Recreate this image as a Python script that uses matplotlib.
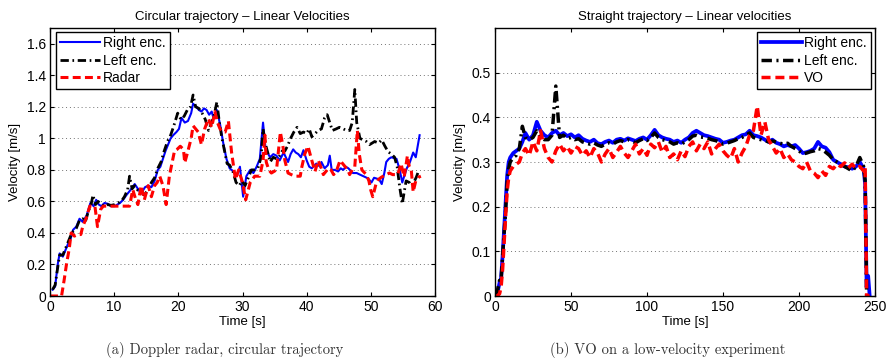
import matplotlib
matplotlib.use("Agg")
import matplotlib.pyplot as plt

# ---- (a) circular trajectory, doppler radar ----
circ_right_t = [0.4, 0.8, 1.2, 1.5, 2.0, 2.5, 2.8, 3.2, 3.6, 4.1, 4.6, 5.1, 5.7, 6.3, 6.8, 7.2, 7.6, 8.0, 8.5, 9.0,
                9.5, 10.1, 10.5, 10.9, 11.4, 11.9, 12.5, 13.2, 13.7, 14.2, 14.8, 15.3, 15.8, 16.3, 16.8, 17.2, 17.6,
                18.0, 18.4, 18.8, 19.2, 19.7, 20.1, 20.5, 21.0, 21.5, 22.0, 22.3, 22.8, 23.2, 23.6, 24.0, 24.4, 24.8,
                25.2, 25.5, 26.0, 26.5, 27.0, 27.5, 28.0, 28.6, 29.1, 29.6, 30.1, 30.6, 31.2, 31.7, 32.2, 32.7, 33.2,
                33.6, 34.3, 34.8, 35.3, 35.8, 36.4, 37.1, 37.5, 37.9, 38.3, 38.7, 39.1, 39.5, 40.0, 40.4, 40.8, 41.5,
                42.1, 42.3, 42.8, 43.3, 43.6, 43.9, 44.4, 44.9, 45.3, 45.7, 46.1, 46.5, 47.2, 47.8, 48.3, 49.1, 49.6,
                50.1, 50.5, 50.9, 51.3, 51.7, 52.1, 52.4, 52.8, 53.2, 53.6, 54.0, 54.5, 54.9, 55.2, 55.6, 56.1, 56.6,
                57.0, 57.3, 57.6]
circ_right_v = [0.04, 0.06, 0.20, 0.27, 0.25, 0.30, 0.33, 0.36, 0.42, 0.44, 0.49, 0.47, 0.51, 0.59, 0.57, 0.61, 0.58,
                0.57, 0.59, 0.585, 0.57, 0.57, 0.58, 0.59, 0.61, 0.64, 0.67, 0.71, 0.68, 0.65, 0.69, 0.70, 0.69, 0.73,
                0.80, 0.82, 0.87, 0.92, 0.96, 1.00, 1.02, 1.04, 1.06, 1.13, 1.10, 1.11, 1.16, 1.22, 1.20, 1.18, 1.17,
                1.19, 1.18, 1.15, 1.17, 1.125, 1.18, 1.09, 0.97, 0.87, 0.81, 0.79, 0.76, 0.82, 0.63, 0.76, 0.80, 0.78,
                0.82, 0.87, 1.10, 0.93, 0.88, 0.90, 0.89, 0.86, 0.91, 0.85, 0.90, 0.93, 0.91, 0.90, 0.88, 0.925, 0.86,
                0.82, 0.81, 0.84, 0.82, 0.85, 0.81, 0.83, 0.89, 0.80, 0.80, 0.79, 0.81, 0.80, 0.82, 0.81, 0.78, 0.78,
                0.77, 0.755, 0.745, 0.72, 0.75, 0.745, 0.74, 0.71, 0.78, 0.85, 0.87, 0.88, 0.875, 0.87, 0.80, 0.72,
                0.76, 0.81, 0.85, 0.91, 0.88, 0.95, 1.02]

circ_left_t = [0.4, 0.8, 1.2, 1.5, 2.0, 2.5, 2.8, 3.2, 3.6, 4.1, 4.6, 5.1, 5.5, 6.0, 6.4, 6.7, 7.1, 7.5, 8.0, 8.5,
               9.0, 9.5, 10.1, 10.6, 11.1, 11.6, 12.1, 12.4, 12.8, 13.2, 13.7, 14.2, 14.7, 15.2, 15.8, 16.3, 16.8,
               17.3, 17.8, 18.3, 18.8, 19.3, 19.9, 20.4, 20.9, 21.4, 21.9, 22.3, 22.7, 23.2, 23.7, 24.2, 24.7, 25.2,
               25.6, 26.0, 26.4, 26.8, 27.2, 27.6, 28.0, 28.5, 29.0, 29.5, 29.9, 30.4, 30.8, 31.4, 31.9, 32.4, 32.9,
               33.2, 33.6, 34.0, 34.3, 34.8, 35.3, 35.8, 36.2, 36.6, 37.0, 37.5, 38.0, 38.5, 39.0, 39.5, 40.0, 40.4,
               40.8, 41.3, 41.8, 42.3, 42.8, 43.2, 43.6, 44.0, 44.6, 45.1, 45.7, 46.2, 46.7, 47.1, 47.5, 47.8, 48.3,
               48.8, 49.3, 49.8, 50.2, 50.6, 51.2, 51.7, 52.2, 52.7, 53.2, 53.7, 54.1, 54.5, 54.9, 55.2, 55.5, 56.0,
               56.3, 56.7, 57.1, 57.5]
circ_left_v = [0.04, 0.07, 0.18, 0.26, 0.26, 0.31, 0.34, 0.38, 0.41, 0.43, 0.48, 0.49, 0.47, 0.54, 0.58, 0.64, 0.58,
               0.60, 0.58, 0.57, 0.58, 0.575, 0.58, 0.59, 0.60, 0.63, 0.675, 0.76, 0.68, 0.70, 0.67, 0.66, 0.64, 0.67,
               0.72, 0.75, 0.81, 0.85, 0.92, 0.98, 1.02, 1.08, 1.16, 1.12, 1.14, 1.18, 1.20, 1.275, 1.20, 1.19, 1.16,
               1.12, 1.05, 1.10, 1.15, 1.23, 1.10, 1.00, 0.92, 0.84, 0.83, 0.79, 0.72, 0.70, 0.73, 0.70, 0.74, 0.80,
               0.80, 0.81, 0.88, 1.06, 0.96, 0.90, 0.85, 0.88, 0.87, 0.89, 0.92, 0.92, 0.95, 1.00, 1.04, 1.07, 1.03,
               1.04, 1.03, 1.06, 1.01, 1.03, 1.05, 1.06, 1.13, 1.15, 1.10, 1.05, 1.06, 1.07, 1.06, 1.05, 1.05, 1.10,
               1.31, 1.10, 1.00, 0.99, 0.98, 0.96, 0.97, 0.98, 0.97, 0.99, 0.95, 0.915, 0.90, 0.88, 0.82, 0.69, 0.585,
               0.66, 0.73, 0.72, 0.70, 0.72, 0.755, 0.80]

circ_radar_t = [0.0, 1.8, 2.2, 2.6, 3.0, 3.3, 3.8, 4.4, 4.8, 5.1, 5.7, 6.2, 6.6, 7.0, 7.4, 7.9, 8.3, 8.8, 9.5, 10.1,
                10.8, 11.4, 12.0, 12.4, 12.9, 13.3, 13.7, 14.2, 14.7, 15.3, 15.8, 16.3, 16.7, 17.1, 17.6, 18.1, 18.6,
                19.0, 19.4, 19.8, 20.3, 20.8, 21.0, 21.5, 22.0, 22.3, 22.7, 23.1, 23.6, 24.1, 24.7, 25.2, 25.7, 26.1,
                26.5, 26.9, 27.3, 27.8, 28.3, 28.9, 29.4, 30.0, 30.5, 31.2, 31.9, 32.3, 32.7, 33.2, 33.5, 33.7, 34.1,
                34.5, 34.9, 35.3, 35.9, 36.3, 36.6, 37.1, 37.6, 38.2, 39.0, 39.2, 39.7, 40.2, 40.8, 41.3, 41.8, 42.2,
                42.6, 43.0, 43.4, 43.8, 44.2, 44.7, 45.2, 45.6, 46.0, 46.4, 46.7, 47.1, 47.5, 47.9, 48.2, 48.6, 49.3,
                49.7, 50.0, 50.3, 50.8, 51.2, 51.7, 52.4, 52.9, 53.4, 54.2, 54.7, 55.2, 55.7, 56.0, 56.3, 56.6, 57.0,
                57.5, 57.8]
circ_radar_v = [0.0, 0.0, 0.10, 0.21, 0.30, 0.40, 0.38, 0.39, 0.39, 0.44, 0.50, 0.57, 0.57, 0.57, 0.44, 0.55, 0.57,
                0.57, 0.57, 0.57, 0.57, 0.57, 0.57, 0.57, 0.675, 0.62, 0.58, 0.70, 0.61, 0.70, 0.63, 0.70, 0.72, 0.76,
                0.70, 0.58, 0.76, 0.84, 0.92, 0.93, 0.95, 0.93, 0.845, 0.92, 1.00, 1.08, 1.06, 1.04, 0.96, 1.06, 1.125,
                1.07, 1.17, 1.10, 1.06, 1.04, 1.04, 1.11, 0.91, 0.74, 0.80, 0.72, 0.61, 0.72, 0.76, 0.76, 0.76, 0.86,
                1.02, 0.85, 0.80, 0.78, 0.79, 0.80, 1.04, 0.95, 0.86, 0.78, 0.77, 0.76, 0.76, 0.81, 0.90, 0.95, 0.86,
                0.79, 0.86, 0.82, 0.77, 0.79, 0.81, 0.80, 0.77, 0.80, 0.86, 0.84, 0.82, 0.80, 0.77, 0.80, 0.82, 1.05,
                0.90, 0.80, 0.77, 0.73, 0.67, 0.63, 0.71, 0.74, 0.755, 0.77, 0.78, 0.77, 0.77, 0.84, 0.755, 0.89, 0.82,
                0.80, 0.66, 0.73, 0.755, 0.76]

# ---- (b) straight trajectory, visual odometry ----
str_t = [0, 1.5, 3, 4, 5, 6, 7, 8, 9, 10, 12, 14, 16, 18, 20,
         22.5, 25, 27.5, 30, 32.5, 35, 37.5, 40, 42.5, 45, 47.5, 50, 52.5, 55, 57.5, 60,
         62.5, 65, 67.5, 70, 72.5, 75, 77.5, 80, 82.5, 85, 87.5, 90, 92.5, 95, 97.5, 100,
         102.5, 105, 107.5, 110, 112.5, 115, 117.5, 120, 122.5, 125, 127.5, 130, 132.5, 135, 137.5, 140,
         142.5, 145, 147.5, 150, 152.5, 155, 157.5, 160, 162.5, 165, 167.5, 170, 172.5, 175, 177.5, 180,
         182.5, 185, 187.5, 190, 192.5, 195, 197.5, 200, 202.5, 205, 207.5, 210, 212.5, 215, 217.5, 220,
         222.5, 225, 227.5, 230, 232.5, 235, 237.5, 240, 242.5, 243.5, 244.5, 245.5, 246.5]
str_right = [0.0, 0.005, 0.03, 0.04, 0.09, 0.15, 0.21, 0.27, 0.30, 0.31, 0.32, 0.325, 0.33, 0.345, 0.365,
             0.35, 0.36, 0.39, 0.37, 0.36, 0.355, 0.365, 0.37, 0.36, 0.365, 0.358, 0.362, 0.355, 0.36, 0.352, 0.348,
             0.345, 0.35, 0.342, 0.34, 0.345, 0.348, 0.343, 0.35, 0.352, 0.348, 0.353, 0.35, 0.347, 0.352, 0.355, 0.35,
             0.36, 0.372, 0.36, 0.355, 0.352, 0.35, 0.345, 0.348, 0.343, 0.35, 0.355, 0.365, 0.37, 0.365, 0.36, 0.358,
             0.355, 0.352, 0.35, 0.343, 0.345, 0.348, 0.35, 0.355, 0.36, 0.362, 0.37, 0.36, 0.358, 0.355, 0.35, 0.345,
             0.35, 0.343, 0.34, 0.335, 0.338, 0.335, 0.338, 0.33, 0.32, 0.322, 0.325, 0.33, 0.345, 0.335, 0.332, 0.322,
             0.305, 0.30, 0.295, 0.29, 0.288, 0.285, 0.29, 0.30, 0.285, 0.25, 0.02, 0.045, 0.0]
str_left = [0.0, 0.01, 0.035, 0.035, 0.09, 0.14, 0.19, 0.255, 0.285, 0.30, 0.31, 0.315, 0.33, 0.38, 0.355,
            0.35, 0.355, 0.37, 0.355, 0.35, 0.35, 0.36, 0.47, 0.355, 0.36, 0.352, 0.355, 0.35, 0.352, 0.345, 0.342,
            0.34, 0.343, 0.338, 0.335, 0.34, 0.343, 0.34, 0.345, 0.348, 0.345, 0.35, 0.347, 0.343, 0.348, 0.352, 0.348,
            0.355, 0.365, 0.355, 0.35, 0.348, 0.345, 0.34, 0.343, 0.34, 0.345, 0.35, 0.358, 0.36, 0.356, 0.355, 0.353,
            0.35, 0.348, 0.345, 0.34, 0.342, 0.345, 0.348, 0.352, 0.355, 0.36, 0.365, 0.355, 0.352, 0.35, 0.348, 0.345,
            0.347, 0.345, 0.342, 0.34, 0.342, 0.335, 0.33, 0.325, 0.318, 0.32, 0.323, 0.325, 0.33, 0.328, 0.322, 0.315,
            0.305, 0.30, 0.295, 0.29, 0.285, 0.28, 0.29, 0.31, 0.29, 0.26, 0.0, 0.0, 0.0]
str_vo = [0.0, 0.0, 0.005, 0.02, 0.06, 0.12, 0.18, 0.235, 0.265, 0.28, 0.29, 0.295, 0.30, 0.32, 0.33,
          0.315, 0.345, 0.325, 0.37, 0.33, 0.31, 0.30, 0.325, 0.34, 0.325, 0.335, 0.32, 0.335, 0.33, 0.315, 0.325,
          0.31, 0.33, 0.32, 0.30, 0.318, 0.33, 0.31, 0.322, 0.335, 0.32, 0.31, 0.325, 0.34, 0.318, 0.33, 0.315,
          0.34, 0.332, 0.345, 0.322, 0.335, 0.31, 0.318, 0.305, 0.325, 0.312, 0.335, 0.345, 0.325, 0.34, 0.33, 0.345,
          0.318, 0.33, 0.34, 0.325, 0.315, 0.308, 0.33, 0.30, 0.32, 0.335, 0.36, 0.37, 0.425, 0.36, 0.39, 0.35,
          0.335, 0.32, 0.33, 0.31, 0.318, 0.305, 0.30, 0.29, 0.285, 0.30, 0.28, 0.275, 0.265, 0.28, 0.27, 0.29,
          0.285, 0.295, 0.29, 0.298, 0.287, 0.295, 0.285, 0.29, 0.28, 0.29, 0.0, 0.0, 0.0]

circ_yticks = [0, 0.2, 0.4, 0.6, 0.8, 1.0, 1.2, 1.4, 1.6]
circ_ylabels = ['0', '0.2', '0.4', '0.6', '0.8', '1', '1.2', '1.4', '1.6']
str_yticks = [0, 0.1, 0.2, 0.3, 0.4, 0.5]
str_ylabels = ['0', '0.1', '0.2', '0.3', '0.4', '0.5']

plt.rcParams['font.family'] = ['Liberation Sans', 'DejaVu Sans']

W, H = 892, 362
fig = plt.figure(figsize=(W / 100, H / 100), dpi=100)

dashdot = (0, (3.0, 1.3, 0.6, 1.3))
dashed = (0, (2.6, 1.4))


def style_axes(ax, yticks, ylabels):
    ax.set_yticks(yticks)
    ax.set_yticklabels(ylabels)
    ax.tick_params(direction='in', top=True, right=True, labelsize=10, length=3, width=0.8, pad=3)
    ax.yaxis.grid(True, linestyle=(0, (1, 3)), color='0.45', linewidth=0.7)
    ax.set_axisbelow(True)
    for s in ax.spines.values():
        s.set_linewidth(1.0)
    ax.set_xlabel('Time [s]', fontsize=9.5, labelpad=1)
    ax.set_ylabel('Velocity [m/s]', fontsize=9.5, labelpad=4)


def add_legend(ax, loc, anchor):
    leg = ax.legend(loc=loc, bbox_to_anchor=anchor, fontsize=10, frameon=True, fancybox=False,
                    edgecolor='black', framealpha=1, handlelength=2.9, handletextpad=0.2, labelspacing=0.25,
                    borderpad=0.3, borderaxespad=0)
    leg.get_frame().set_linewidth(1.0)


ax1 = fig.add_axes([50 / W, 1 - 296 / H, 385 / W, 268 / H])
ax1.plot(circ_right_t, circ_right_v, color='#0000ff', lw=1.5, label='Right enc.')
ax1.plot(circ_left_t, circ_left_v, color='black', lw=2.0, linestyle=dashdot, label='Left enc.')
ax1.plot(circ_radar_t, circ_radar_v, color='#ff0000', lw=2.2, linestyle=dashed, label='Radar')
ax1.set_xlim(0, 60)
ax1.set_ylim(0, 1.7)
ax1.set_xticks([0, 10, 20, 30, 40, 50, 60])
style_axes(ax1, circ_yticks, circ_ylabels)
ax1.set_title('Circular trajectory \u2013 Linear Velocities', fontsize=9.5, pad=6)
add_legend(ax1, 'upper left', (0.015, 0.985))

ax2 = fig.add_axes([495 / W, 1 - 296 / H, 380 / W, 268 / H])
ax2.plot(str_t, str_right, color='#0000ff', lw=2.7, label='Right enc.')
ax2.plot(str_t, str_left, color='black', lw=2.5, linestyle=dashdot, label='Left enc.')
ax2.plot(str_t, str_vo, color='#ff0000', lw=2.5, linestyle=dashed, label='VO')
ax2.set_xlim(0, 250)
ax2.set_ylim(0, 0.6)
ax2.set_xticks([0, 50, 100, 150, 200, 250])
style_axes(ax2, str_yticks, str_ylabels)
ax2.set_title('Straight trajectory \u2013 Linear velocities', fontsize=9.5, pad=6)
add_legend(ax2, 'upper right', (0.99, 0.985))

fig.text(225 / W, 1 - 350 / H, '(a) Doppler radar, circular trajectory', family='cmr10', fontsize=10.5,
         ha='center', va='center', color='0.2')
fig.text(668 / W, 1 - 350 / H, '(b) VO on a low-velocity experiment', family='cmr10', fontsize=10.5,
         ha='center', va='center', color='0.2')

fig.savefig('out.png', dpi=100)
